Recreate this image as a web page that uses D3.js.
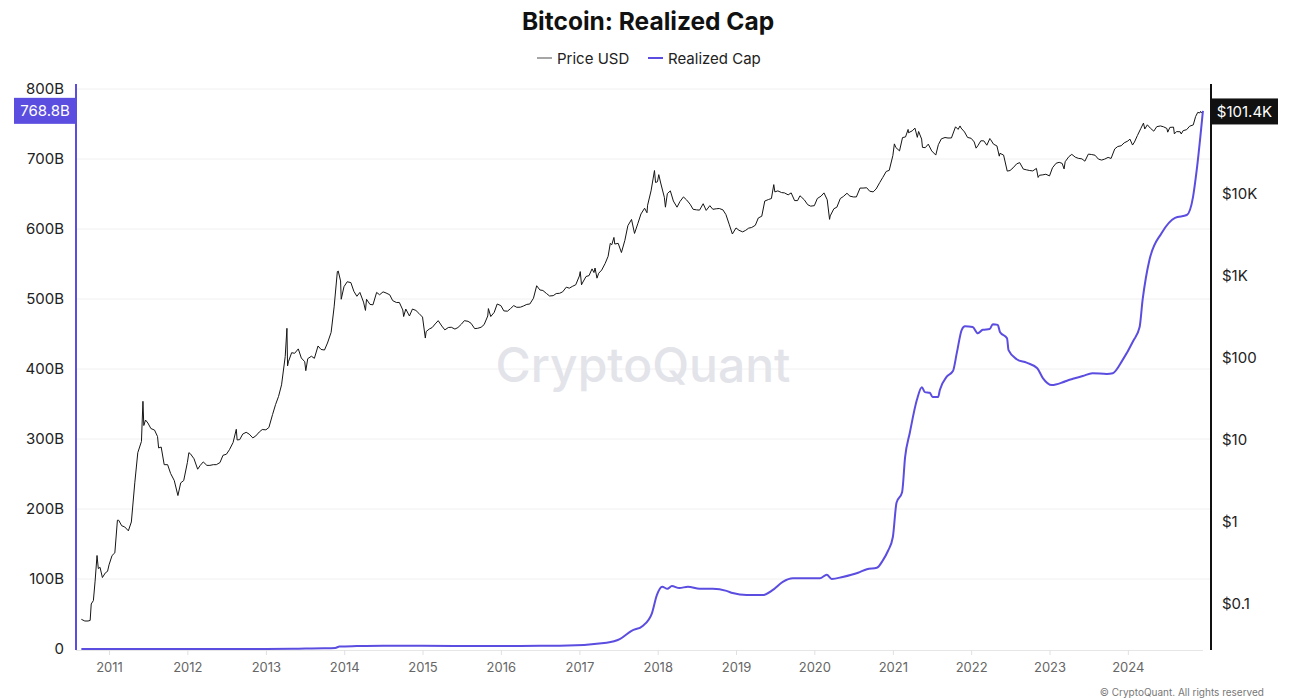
<!DOCTYPE html>
<html>
<head>
<meta charset="utf-8">
<script src="https://cdn.jsdelivr.net/npm/d3@7"></script>
<style>
  html, body { margin: 0; padding: 0; background: #fff; }
  svg { display: block; font-family: Inter, "Noto Sans", sans-serif; }
</style>
</head>
<body>
<svg id="chart" width="1296" height="700"></svg>
<script>
// ---------------- DATA ----------------
const chartTitle = "Bitcoin: Realized Cap";
const seriesNames = ["Price USD", "Realized Cap"];

// Price USD (log, right axis)
const priceUSD = [
["2010-08-25",0.065],["2010-09-10",0.062],["2010-09-25",0.062],["2010-10-05",0.063],["2010-10-10",0.10],["2010-10-20",0.11],["2010-10-28",0.19],["2010-11-06",0.39],["2010-11-12",0.27],["2010-11-20",0.28],["2010-12-01",0.21],["2010-12-15",0.24],["2010-12-25",0.25],
["2011-01-01",0.30],["2011-01-15",0.39],["2011-01-28",0.42],["2011-02-09",1.05],["2011-02-15",1.05],["2011-03-01",0.90],["2011-03-15",0.87],["2011-04-01",0.78],["2011-04-15",1.00],["2011-05-01",3.0],["2011-05-15",7.0],["2011-06-01",9.6],["2011-06-08",29.6],["2011-06-12",15],["2011-06-20",17.5],["2011-07-01",16.1],["2011-07-15",13.8],["2011-08-01",13.2],["2011-08-15",11],["2011-08-20",8],["2011-09-01",8.2],["2011-09-15",5.0],["2011-10-01",5.0],["2011-10-15",3.9],["2011-11-01",3.2],["2011-11-18",2.1],["2011-12-01",3.0],["2011-12-15",3.2],
["2012-01-01",5.3],["2012-01-08",7.0],["2012-01-15",6.8],["2012-02-01",5.9],["2012-02-18",4.4],["2012-03-01",4.9],["2012-03-15",5.4],["2012-04-01",4.9],["2012-04-15",4.9],["2012-05-01",5.0],["2012-05-15",5.0],["2012-06-01",5.3],["2012-06-15",6.5],["2012-07-01",6.7],["2012-07-15",7.6],["2012-08-01",9.3],["2012-08-16",13.5],["2012-08-20",10],["2012-09-01",10.1],["2012-09-15",11.8],["2012-10-01",12.4],["2012-10-15",11.8],["2012-11-01",10.6],["2012-11-15",11.2],["2012-12-01",12.5],["2012-12-15",13.4],
["2013-01-01",13.3],["2013-01-15",14.2],["2013-02-01",20.4],["2013-02-15",27],["2013-03-01",34],["2013-03-15",47],["2013-04-01",104],["2013-04-09",230],["2013-04-12",80],["2013-04-16",90],["2013-05-01",116],["2013-05-15",114],["2013-06-01",129],["2013-06-15",100],["2013-07-01",90],["2013-07-06",70],["2013-07-15",98],["2013-08-01",105],["2013-08-15",99],["2013-09-01",140],["2013-09-15",127],["2013-10-01",125],["2013-10-15",152],["2013-11-01",205],["2013-11-15",420],["2013-11-30",1130],["2013-12-04",1150],["2013-12-15",870],["2013-12-18",520],["2013-12-31",740],
["2014-01-15",850],["2014-02-01",830],["2014-02-15",650],["2014-03-01",565],["2014-03-15",630],["2014-04-01",480],["2014-04-10",380],["2014-04-15",520],["2014-05-01",450],["2014-05-15",445],["2014-06-01",630],["2014-06-15",590],["2014-07-01",640],["2014-07-15",620],["2014-08-01",590],["2014-08-15",500],["2014-09-01",475],["2014-09-15",475],["2014-10-01",385],["2014-10-05",320],["2014-10-15",395],["2014-11-01",325],["2014-11-15",395],["2014-12-01",380],["2014-12-15",350],
["2015-01-01",315],["2015-01-14",175],["2015-01-18",210],["2015-02-01",225],["2015-02-15",235],["2015-03-01",260],["2015-03-15",285],["2015-04-01",245],["2015-04-15",220],["2015-05-01",235],["2015-05-15",237],["2015-06-01",225],["2015-06-15",235],["2015-07-01",258],["2015-07-15",285],["2015-08-01",280],["2015-08-15",265],["2015-09-01",228],["2015-09-15",230],["2015-10-01",237],["2015-10-15",255],["2015-11-01",325],["2015-11-04",400],["2015-11-15",320],["2015-12-01",360],["2015-12-15",455],
["2016-01-01",435],["2016-01-15",375],["2016-02-01",372],["2016-02-15",400],["2016-03-01",435],["2016-03-15",415],["2016-04-01",416],["2016-04-15",430],["2016-05-01",450],["2016-05-15",455],["2016-06-01",535],["2016-06-16",760],["2016-07-01",675],["2016-07-15",665],["2016-08-01",610],["2016-08-15",570],["2016-09-01",575],["2016-09-15",610],["2016-10-01",615],["2016-10-15",640],["2016-11-01",730],["2016-11-15",710],["2016-12-01",750],["2016-12-15",780],
["2017-01-01",1000],["2017-01-05",1130],["2017-01-11",780],["2017-01-15",820],["2017-02-01",985],["2017-02-15",1010],["2017-03-01",1220],["2017-03-10",1100],["2017-03-15",1250],["2017-03-24",940],["2017-04-01",1080],["2017-04-15",1180],["2017-05-01",1420],["2017-05-15",1740],["2017-05-25",2500],["2017-06-01",2400],["2017-06-11",2950],["2017-06-15",2450],["2017-07-01",2500],["2017-07-16",1930],["2017-08-01",2720],["2017-08-15",4100],["2017-09-01",4890],["2017-09-15",3300],["2017-10-01",4400],["2017-10-15",5700],["2017-11-01",6700],["2017-11-12",5900],["2017-11-15",7300],["2017-12-01",10900],["2017-12-17",19300],["2017-12-22",13800],["2017-12-31",14100],
["2018-01-06",17200],["2018-01-15",13600],["2018-02-01",9100],["2018-02-06",6900],["2018-02-15",10100],["2018-03-01",10900],["2018-03-15",8200],["2018-04-01",6900],["2018-04-15",8100],["2018-05-01",9200],["2018-05-15",8500],["2018-06-01",7500],["2018-06-15",6500],["2018-07-01",6400],["2018-07-15",6350],["2018-08-01",7600],["2018-08-15",6300],["2018-09-01",7200],["2018-09-15",6500],["2018-10-01",6600],["2018-10-15",6650],["2018-11-01",6400],["2018-11-15",5600],["2018-12-01",4200],["2018-12-15",3250],
["2019-01-01",3850],["2019-01-15",3600],["2019-02-01",3450],["2019-02-15",3600],["2019-03-01",3830],["2019-03-15",3900],["2019-04-01",4150],["2019-04-15",5100],["2019-05-01",5350],["2019-05-15",8200],["2019-06-01",8550],["2019-06-15",8800],["2019-06-26",13000],["2019-07-01",10600],["2019-07-15",10900],["2019-08-01",10400],["2019-08-15",10300],["2019-09-01",9750],["2019-09-15",10300],["2019-10-01",8300],["2019-10-15",8300],["2019-10-26",9500],["2019-11-01",9200],["2019-11-15",8500],["2019-12-01",7400],["2019-12-15",7100],
["2020-01-01",7200],["2020-01-15",8800],["2020-02-01",9400],["2020-02-15",10300],["2020-03-01",8500],["2020-03-12",4900],["2020-03-15",5400],["2020-04-01",6600],["2020-04-15",6900],["2020-05-01",8800],["2020-05-15",9300],["2020-06-01",10200],["2020-06-15",9400],["2020-07-01",9200],["2020-07-15",9200],["2020-08-01",11800],["2020-08-15",11800],["2020-09-01",11900],["2020-09-15",10800],["2020-10-01",10600],["2020-10-15",11500],["2020-11-01",13800],["2020-11-15",15900],["2020-12-01",18800],["2020-12-15",19400],
["2021-01-01",29400],["2021-01-08",40800],["2021-01-15",36800],["2021-02-01",33500],["2021-02-15",48700],["2021-03-01",49600],["2021-03-13",61200],["2021-03-15",55800],["2021-04-01",58800],["2021-04-14",63500],["2021-04-25",49000],["2021-05-01",57800],["2021-05-15",46700],["2021-05-19",37000],["2021-06-01",36700],["2021-06-15",40500],["2021-07-01",33500],["2021-07-20",29800],["2021-08-01",39900],["2021-08-15",47000],["2021-09-01",48800],["2021-09-15",48100],["2021-10-01",48200],["2021-10-20",65900],["2021-11-01",61300],["2021-11-10",67500],["2021-11-15",63600],["2021-12-01",57000],["2021-12-15",48900],
["2022-01-01",47700],["2022-01-15",43100],["2022-01-24",36200],["2022-02-01",38700],["2022-02-15",44500],["2022-03-01",44400],["2022-03-15",39300],["2022-03-29",47400],["2022-04-01",46300],["2022-04-15",40500],["2022-05-01",38500],["2022-05-12",28900],["2022-05-15",31300],["2022-06-01",29800],["2022-06-18",19000],["2022-07-01",19300],["2022-07-15",20800],["2022-08-01",23300],["2022-08-15",24100],["2022-09-01",20100],["2022-09-15",19700],["2022-10-01",19300],["2022-10-15",19100],["2022-11-01",20500],["2022-11-09",15900],["2022-11-15",16900],["2022-12-01",17100],["2022-12-15",17400],
["2023-01-01",16600],["2023-01-15",20900],["2023-02-01",23700],["2023-02-15",24300],["2023-03-01",23600],["2023-03-10",20200],["2023-03-15",24700],["2023-04-01",28500],["2023-04-15",30400],["2023-05-01",28100],["2023-05-15",27200],["2023-06-01",26800],["2023-06-15",25100],["2023-07-01",30600],["2023-07-15",30300],["2023-08-01",29700],["2023-08-17",26600],["2023-09-01",25900],["2023-09-15",26600],["2023-10-01",27900],["2023-10-15",27100],["2023-11-01",35400],["2023-11-15",37900],["2023-12-01",38700],["2023-12-15",42000],
["2024-01-01",44200],["2024-01-11",46600],["2024-01-23",39500],["2024-02-01",43000],["2024-02-15",51800],["2024-03-01",62400],["2024-03-14",73100],["2024-03-20",62000],["2024-04-01",69700],["2024-04-15",63400],["2024-05-01",58300],["2024-05-15",66200],["2024-06-01",67500],["2024-06-15",66000],["2024-07-01",62900],["2024-07-05",56700],["2024-07-15",64800],["2024-08-01",65300],["2024-08-05",54000],["2024-08-15",57600],["2024-09-01",57300],["2024-09-06",53900],["2024-09-15",59200],["2024-10-01",60800],["2024-10-15",67000],["2024-11-01",69500],["2024-11-12",88000],["2024-11-22",98900],["2024-12-01",97200],["2024-12-05",101400],["2024-12-10",97000],["2024-12-16",101400]
];

// Realized Cap in billions USD (linear, left axis)
const realizedCap = [
["2010-08-25",0],["2011-06-15",0.05],["2012-06-01",0.1],["2013-01-01",0.15],["2013-06-01",0.5],["2013-10-01",0.9],["2013-11-20",1.5],["2013-12-10",3.5],
["2014-03-01",4.2],["2014-07-01",4.8],["2015-01-01",4.6],["2015-07-01",4.3],["2016-01-01",4.2],["2016-07-01",4.5],["2016-10-01",4.5],
["2017-05-08",9],["2017-07-08",14],["2017-09-01",26],["2017-10-23",33],["2017-12-05",51],["2017-12-28",77],
["2018-01-22",89],["2018-02-15",86],["2018-03-08",90],["2018-04-12",87],["2018-05-22",89],["2018-07-16",86],["2018-09-15",86],["2018-11-18",83],["2018-12-16",80],
["2019-02-20",77],["2019-05-04",77],["2019-06-20",84],["2019-08-07",96],["2019-09-23",101],["2019-11-27",101],
["2020-01-27",101],["2020-02-28",106],["2020-03-22",100],["2020-05-12",103],["2020-07-23",109],["2020-09-02",114],["2020-10-18",116],["2020-11-16",127],["2020-12-09",140],
["2021-01-01",160],["2021-01-18",209],["2021-02-13",224],["2021-02-27",274],["2021-03-21",309],["2021-04-23",356],["2021-05-16",374],["2021-05-30",367],["2021-06-22",366],["2021-07-05",360],["2021-07-31",360],["2021-08-08",370],["2021-09-09",389],["2021-10-08",397],["2021-10-26",423],["2021-11-18",456],["2021-12-03",461],
["2022-01-08",460],["2022-02-01",451],["2022-02-24",456],["2022-03-28",457],["2022-04-12",464],["2022-05-05",463],["2022-05-15",453],["2022-06-17",444],["2022-06-24",427],["2022-08-01",414],["2022-09-16",409],["2022-11-05",401],["2022-12-01",387],
["2023-01-12",377],["2023-03-04",381],["2023-03-29",384],["2023-04-20",386],["2023-06-05",390],["2023-07-20",394],["2023-09-25",393],["2023-10-23",394],["2023-12-08",413],
["2024-01-26",440],["2024-02-25",460],["2024-03-10",499],["2024-03-25",530],["2024-04-11",556],["2024-06-06",594],["2024-08-08",616],["2024-10-02",620],["2024-10-31",646],["2024-11-17",684],["2024-12-16",768.8]
];

const leftTicks = [0, 100, 200, 300, 400, 500, 600, 700, 800];
const leftTickLabels = ["0", "100B", "200B", "300B", "400B", "500B", "600B", "700B", "800B"];
const rightTicks = [0.1, 1, 10, 100, 1000, 10000];
const rightTickLabels = ["$0.1", "$1", "$10", "$100", "$1K", "$10K"];
const yearTicks = [2011, 2012, 2013, 2014, 2015, 2016, 2017, 2018, 2019, 2020, 2021, 2022, 2023, 2024];
const lastCapLabel = "768.8B";
const lastPriceLabel = "$101.4K";
const watermark = "CryptoQuant";
const copyright = "© CryptoQuant. All rights reserved";

// ---------------- LAYOUT ----------------
const W = 1296, H = 700;
const L = 76, R = 1210, T = 89, B = 649;
const purple = "#5b4de0";

const parse = d3.timeParse("%Y-%m-%d");
const price = priceUSD.map(d => ({date: parse(d[0]), v: d[1]}));
const cap = realizedCap.map(d => ({date: parse(d[0]), v: d[1]}));

const svg = d3.select("#chart");

const x = d3.scaleTime()
  .domain([new Date(2010, 6, 31), new Date(2025, 0, 18)])
  .range([L, R]);
const yL = d3.scaleLinear().domain([0, 800]).range([B, T]);
const yR = d3.scaleLog().domain([0.02825, 190500]).range([B, T]);

// gridlines
svg.append("g")
  .selectAll("line").data(leftTicks.slice(1)).join("line")
  .attr("x1", L).attr("x2", R)
  .attr("y1", d => yL(d)).attr("y2", d => yL(d))
  .attr("stroke", "#f0f0f2").attr("stroke-width", 1);

// watermark
svg.append("text")
  .attr("x", 643).attr("y", 382)
  .attr("text-anchor", "middle")
  .attr("font-size", 48).attr("font-weight", 500)
  .attr("fill", "#e3e3ea")
  .text(watermark);

// x axis
const xAxis = d3.axisBottom(x)
  .tickValues(yearTicks.map(y => new Date(y, 0, 1)))
  .tickFormat(d3.timeFormat("%Y"))
  .tickSize(5).tickPadding(8);
const gx = svg.append("g").attr("transform", `translate(0,${B + 1})`).call(xAxis);
gx.select(".domain").attr("stroke", "#e6e6e6").attr("d", `M${L},0.5H${R - 7}`);
gx.selectAll(".tick line").attr("stroke", "#e0e0e0");
gx.selectAll(".tick text").attr("fill", "#666").attr("font-size", 13).attr("font-family", "Inter, sans-serif");

// left axis
const yLAxis = d3.axisLeft(yL).tickValues(leftTicks)
  .tickFormat((d, i) => leftTickLabels[i]).tickSize(0).tickPadding(12);
const gl = svg.append("g").attr("transform", `translate(${L},0)`).call(yLAxis);
gl.select(".domain").remove();
gl.selectAll(".tick text").attr("fill", "#222").attr("font-size", 15).attr("font-family", "Inter, sans-serif");
svg.append("line").attr("x1", L).attr("x2", L).attr("y1", T - 5).attr("y2", B + 1)
  .attr("stroke", purple).attr("stroke-width", 2);

// right axis
const yRAxis = d3.axisRight(yR).tickValues(rightTicks)
  .tickFormat((d, i) => rightTickLabels[i]).tickSize(0).tickPadding(12);
const gr = svg.append("g").attr("transform", `translate(${R},0)`).call(yRAxis);
gr.select(".domain").remove();
gr.selectAll(".tick text").attr("fill", "#222").attr("font-size", 15).attr("font-family", "Inter, sans-serif");
svg.append("line").attr("x1", R + 1).attr("x2", R + 1).attr("y1", T - 5).attr("y2", B + 1)
  .attr("stroke", "#111").attr("stroke-width", 2);

// lines
const capLine = d3.line().x(d => x(d.date)).y(d => yL(d.v)).curve(d3.curveMonotoneX);
const priceLine = d3.line().x(d => x(d.date)).y(d => yR(d.v));

svg.append("path").datum(price)
  .attr("d", priceLine).attr("fill", "none")
  .attr("stroke", "#151515").attr("stroke-width", 1).attr("stroke-linejoin", "round");

svg.append("path").datum(cap)
  .attr("d", capLine).attr("fill", "none")
  .attr("stroke", purple).attr("stroke-width", 2).attr("stroke-linejoin", "round");

// last value labels
const lastCap = cap[cap.length - 1].v;
const lastPrice = price[price.length - 1].v;
const capY = yL(lastCap) , priceY = yR(lastPrice);
svg.append("rect").attr("x", 14).attr("y", capY - 13).attr("width", L - 14).attr("height", 26).attr("fill", purple);
svg.append("text").attr("x", (14 + L) / 2).attr("y", capY + 5.5).attr("text-anchor", "middle")
  .attr("fill", "#fff").attr("font-size", 15).text(lastCapLabel);
svg.append("rect").attr("x", R + 1).attr("y", priceY - 13).attr("width", 67).attr("height", 26).attr("fill", "#111");
svg.append("text").attr("x", R + 1 + 33.5).attr("y", priceY + 5.5).attr("text-anchor", "middle")
  .attr("fill", "#fff").attr("font-size", 15).text(lastPriceLabel);

// title
svg.append("text").attr("x", W / 2).attr("y", 30).attr("text-anchor", "middle")
  .attr("font-size", 24.5).attr("font-weight", 700).attr("fill", "#111").text(chartTitle);

// legend
const legend = svg.append("g").attr("transform", "translate(0,58)");
const legendItems = [
  {name: seriesNames[0], color: "#888", x: 537},
  {name: seriesNames[1], color: purple, x: 648}
];
legendItems.forEach(it => {
  legend.append("line").attr("x1", it.x).attr("x2", it.x + 15).attr("y1", 0).attr("y2", 0)
    .attr("stroke", it.color).attr("stroke-width", it.color === purple ? 2 : 1.5);
  legend.append("text").attr("x", it.x + 20).attr("y", 5.5).attr("font-size", 15)
    .attr("fill", "#222").text(it.name);
});

// copyright
svg.append("text").attr("x", 1264).attr("y", 696).attr("text-anchor", "end")
  .attr("font-size", 10).attr("fill", "#777").text(copyright);
</script>
</body>
</html>
